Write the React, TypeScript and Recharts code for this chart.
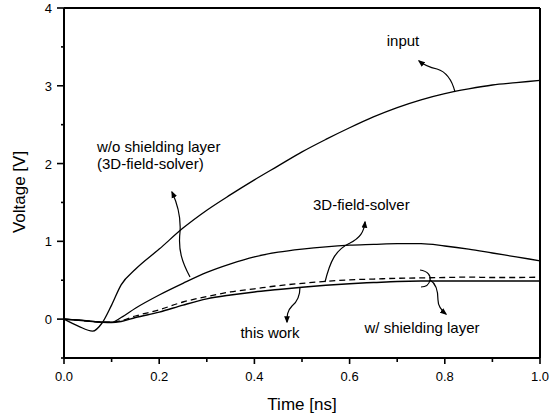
import { LineChart, Line, XAxis, YAxis, ReferenceLine } from "recharts";

// time samples [ns] and the four voltage traces [V]
const time = [0, 0.03, 0.06, 0.08, 0.1, 0.12, 0.15, 0.2, 0.25, 0.3, 0.35, 0.4, 0.45, 0.5, 0.55, 0.6, 0.65, 0.7, 0.75, 0.8, 0.85, 0.9, 0.95, 1.0];
const inputV = [0, -0.09, -0.155, -0.05, 0.18, 0.44, 0.64, 0.9, 1.17, 1.4, 1.6, 1.79, 1.97, 2.15, 2.31, 2.46, 2.6, 2.72, 2.82, 2.9, 2.96, 3.01, 3.04, 3.07];
const noShieldV = [0, -0.01, -0.03, -0.04, -0.04, 0.02, 0.14, 0.31, 0.46, 0.6, 0.71, 0.8, 0.86, 0.9, 0.93, 0.95, 0.96, 0.97, 0.97, 0.94, 0.9, 0.85, 0.8, 0.75];
const solverV = [0, -0.015, -0.03, -0.04, -0.04, -0.02, 0.04, 0.12, 0.22, 0.29, 0.35, 0.39, 0.43, 0.46, 0.485, 0.505, 0.515, 0.525, 0.53, 0.535, 0.54, 0.535, 0.535, 0.54];
const thisWorkV = [0, -0.015, -0.03, -0.04, -0.045, -0.03, 0.02, 0.09, 0.18, 0.26, 0.31, 0.35, 0.38, 0.41, 0.435, 0.455, 0.47, 0.485, 0.49, 0.49, 0.49, 0.49, 0.49, 0.49];

const xTicks = [0, 0.1, 0.2, 0.3, 0.4, 0.5, 0.6, 0.7, 0.8, 0.9, 1.0];
const yTicks = [-0.5, 0, 0.5, 1, 1.5, 2, 2.5, 3, 3.5, 4];

const data = time.map((t, i) => ({
  t,
  input: inputV[i],
  noShield: noShieldV[i],
  solver: solverV[i],
  thisWork: thisWorkV[i],
}));

const FONT = "'Liberation Sans', Arial, Helvetica, sans-serif";

const XTick = ({ x, y, payload }: any) => {
  const v = payload.value as number;
  const major = Math.round(v * 10) % 2 === 0;
  return (
    <g>
      <line x1={x} x2={x} y1={y} y2={y + (major ? 6 : 4)} stroke="#000" strokeWidth={1.6} />
      {major && (
        <text x={x} y={y + 23} textAnchor="middle" fontSize={13} fontFamily={FONT} fill="#000">
          {v.toFixed(1)}
        </text>
      )}
    </g>
  );
};

const YTick = ({ x, y, payload }: any) => {
  const v = payload.value as number;
  const major = Number.isInteger(v);
  return (
    <g>
      <line x1={x - (major ? 7 : 3)} x2={x} y1={y} y2={y} stroke="#000" strokeWidth={1.6} />
      {major && (
        <text x={x - 12} y={y + 5} textAnchor="end" fontSize={13} fontFamily={FONT} fill="#000">
          {v}
        </text>
      )}
    </g>
  );
};

const lbl = { fontSize: 15, fontFamily: FONT, fill: "#000" };

export default function App() {
  return (
    <div style={{ position: "absolute", left: 0, top: 0, width: 553, height: 417, background: "#fff" }}>
      <LineChart width={553} height={417} data={data} margin={{ top: 8, right: 13, left: 0, bottom: 0 }}>
        <XAxis
          dataKey="t"
          type="number"
          domain={[0, 1]}
          ticks={xTicks}
          height={59}
          tickSize={0}
          tickMargin={0}
          tickLine={false}
          axisLine={{ stroke: "#000", strokeWidth: 2 }}
          tick={<XTick />}
          interval={0}
        />
        <YAxis
          type="number"
          domain={[-0.5, 4]}
          ticks={yTicks}
          width={64}
          tickSize={0}
          tickMargin={0}
          tickLine={false}
          axisLine={{ stroke: "#000", strokeWidth: 2 }}
          tick={<YTick />}
          interval={0}
        />
        <ReferenceLine y={4} stroke="#000" strokeWidth={2} />
        <ReferenceLine x={1} stroke="#000" strokeWidth={2} />
        <Line type="monotone" dataKey="input" stroke="#000" strokeWidth={1.3} dot={false} isAnimationActive={false} />
        <Line type="monotone" dataKey="noShield" stroke="#000" strokeWidth={1.3} dot={false} isAnimationActive={false} />
        <Line type="monotone" dataKey="solver" stroke="#000" strokeWidth={1.3} strokeDasharray="6 4" dot={false} isAnimationActive={false} />
        <Line type="monotone" dataKey="thisWork" stroke="#000" strokeWidth={1.5} dot={false} isAnimationActive={false} />
      </LineChart>
      <svg width={553} height={417} style={{ position: "absolute", left: 0, top: 0, pointerEvents: "none" }}>
        <defs>
          <marker id="ah" viewBox="0 0 10 10" refX="8" refY="5" markerWidth="6" markerHeight="6" orient="auto">
            <path d="M0,1 L10,5 L0,9 z" fill="#000" />
          </marker>
        </defs>
        <g fill="none" stroke="#000" strokeWidth={1.2}>
          <path d="M455,92 C452,80 447,72 437,69 C428,67 424,65 419,61" markerEnd="url(#ah)" />
          <path d="M190,277 C182,262 178,250 180,232 C181,218 178,205 172,192" markerEnd="url(#ah)" />
          <path d="M325,282 C330,262 335,250 350,243 C360,238 364,232 365,222" markerEnd="url(#ah)" />
          <path d="M300,287 C300,296 297,302 292,306 C287,311 287,316 287,322" markerEnd="url(#ah)" />
          <path d="M420,270 C428,271 431,276 430,280 C429,285 425,287 421,287" />
          <path d="M430,280 C437,284 438,292 438,300 C438,306 441,310 446,314" markerEnd="url(#ah)" />
        </g>
        <text x={403} y={46} textAnchor="middle" {...lbl}>input</text>
        <text x={97} y={152} {...lbl}>w/o shielding layer</text>
        <text x={97} y={169} {...lbl}>(3D-field-solver)</text>
        <text x={313} y={210} {...lbl}>3D-field-solver</text>
        <text x={270} y={338} textAnchor="middle" {...lbl}>this work</text>
        <text x={422} y={333} textAnchor="middle" {...lbl}>w/ shielding layer</text>
        <text x={302} y={410} textAnchor="middle" fontSize={17} fontFamily={FONT} fill="#000">Time [ns]</text>
        <text x={0} y={0} transform="translate(25,192) rotate(-90)" textAnchor="middle" fontSize={17} fontFamily={FONT} fill="#000">
          Voltage [V]
        </text>
      </svg>
    </div>
  );
}
